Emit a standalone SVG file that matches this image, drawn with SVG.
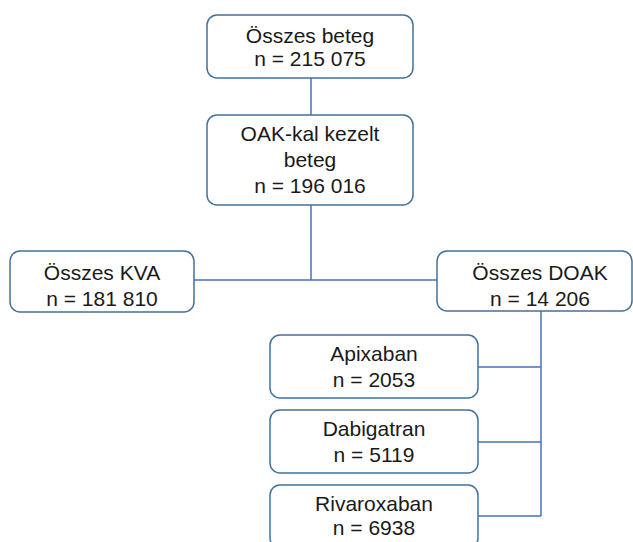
<svg xmlns="http://www.w3.org/2000/svg" width="633" height="542" viewBox="0 0 633 542">
<style>
.box{fill:#ffffff;stroke:#41719C;stroke-width:1.5}
.t{font-family:"Liberation Sans",Arial,sans-serif;font-size:21px;fill:#1a1a1a;text-anchor:middle}
.c{fill:none;stroke:#4472C4;stroke-width:1.5}
</style>
<rect width="633" height="542" fill="#ffffff"/>
<g id="connectors">
<path class="c" d="M311 78V115"/>
<path class="c" d="M311 205V280"/>
<path class="c" d="M194 280H437"/>
<path class="c" d="M541 311V516"/>
<path class="c" d="M478 367H541M478 442H541M478 516H541"/>
</g>
<g id="n1"><rect class="box" x="207" y="15" width="206" height="63" rx="10"/>
<text class="t" x="310" y="43">Összes beteg</text><text class="t" x="310" y="66">n = 215 075</text></g>
<g id="n2"><rect class="box" x="207" y="115" width="206" height="90" rx="10"/>
<text class="t" x="310" y="141">OAK-kal kezelt</text><text class="t" x="310" y="167">beteg</text><text class="t" x="310" y="193">n = 196 016</text></g>
<g id="n3"><rect class="box" x="10" y="251" width="184" height="61" rx="10"/>
<text class="t" x="102" y="280">Összes KVA</text><text class="t" x="102" y="306">n = 181 810</text></g>
<g id="n4"><rect class="box" x="437" y="251" width="195" height="60" rx="10"/>
<text class="t" x="540" y="280">Összes DOAK</text><text class="t" x="540" y="306">n = 14 206</text></g>
<g id="n5"><rect class="box" x="270" y="335" width="208" height="63" rx="10"/>
<text class="t" x="374" y="361">Apixaban</text><text class="t" x="374" y="387">n = 2053</text></g>
<g id="n6"><rect class="box" x="270" y="410" width="208" height="63" rx="10"/>
<text class="t" x="374" y="436">Dabigatran</text><text class="t" x="374" y="462">n = 5119</text></g>
<g id="n7"><rect class="box" x="270" y="485" width="208" height="63" rx="10"/>
<text class="t" x="374" y="511">Rivaroxaban</text><text class="t" x="374" y="535">n = 6938</text></g>
</svg>
